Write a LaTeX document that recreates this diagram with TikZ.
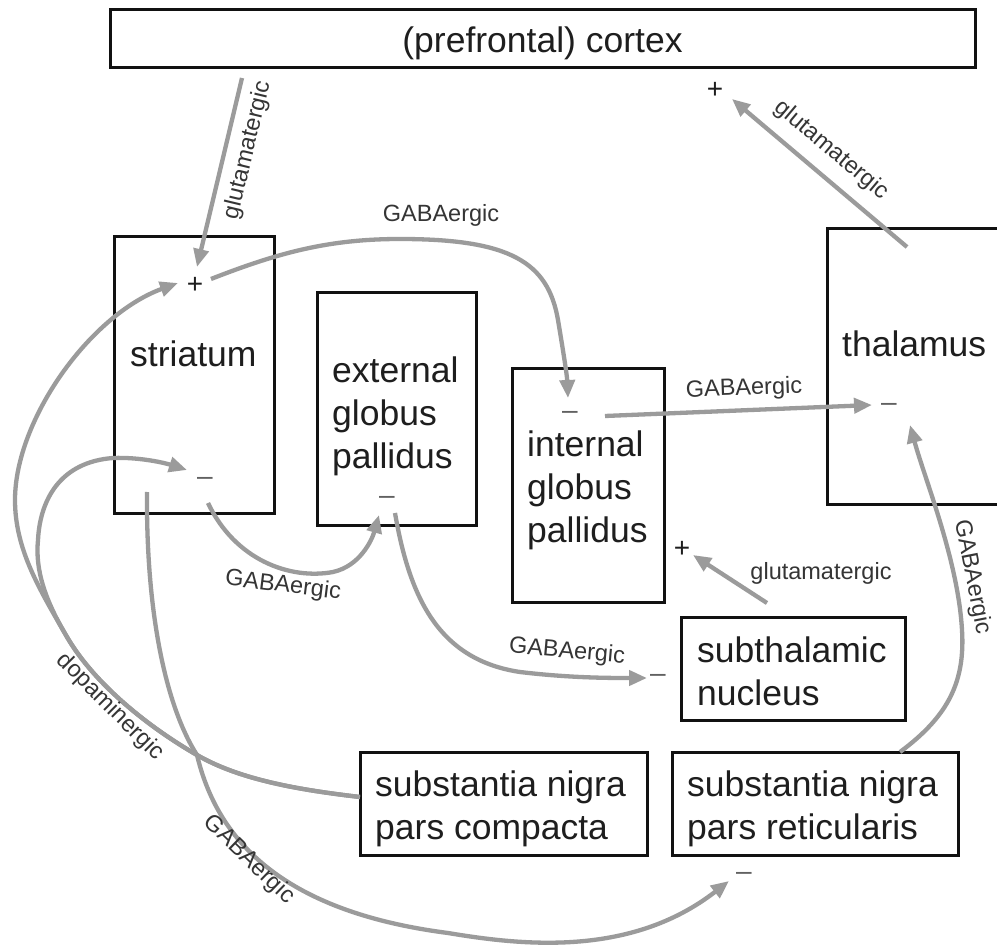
\documentclass[tikz,border=0pt]{standalone}
\usepackage{fontspec}
\setmainfont{Liberation Sans}
\usetikzlibrary{arrows.meta,fit}

\definecolor{wire}{HTML}{9B9B9B}
\definecolor{ink}{HTML}{1E1E1E}
\definecolor{frame}{HTML}{111111}

\begin{document}
\begin{tikzpicture}[x=1pt,y=-1pt,
  region/.style={draw=frame, line width=3pt, inner sep=0pt, rectangle, fit={#1}},
  big/.style={font=\fontsize{35.5}{43}\selectfont, text=ink, inner sep=0pt, align=left},
  small/.style={font=\fontsize{23.5}{28}\selectfont, text=ink!90, inner sep=0pt},
  plus/.style={font=\fontsize{28}{32}\selectfont, text=ink, inner sep=0pt},
  minus/.style={font=\fontsize{28}{32}\selectfont, text=ink!70, inner sep=0pt, yshift=-3.3pt},
  conn/.style={draw=wire, line width=4.3pt, -{Triangle[length=18pt,width=15pt]}}]

\useasboundingbox[fill=white] (0,0) rectangle (997,949);

% regions of the circuit
\node[region={(110,10) (975,68)}] (ctx) {};
\node[region={(114,237) (274,514)}] (str) {};
\node[region={(317,293) (476,526)}] (gpe) {};
\node[region={(512,369) (664,603)}] (gpi) {};
\node[region={(827,229) (1004,505)}] (thal) {};
\node[region={(681,618) (905,720)}] (stn) {};
\node[region={(360,752) (647,855)}] (snc) {};
\node[region={(672,752) (958,855)}] (snr) {};

% region names
\node[big, anchor=base] (ctxT) at (542.5,53) {(prefrontal) cortex};
\node[big, anchor=base west] (strT) at (130,367) {striatum};
\node[big, anchor=north west] (gpeT) at (332,356.6) {external\\globus\\pallidus};
\node[big, anchor=north west] (gpiT) at (527,430.6) {internal\\globus\\pallidus};
\node[big, anchor=base west] (thalT) at (842,357) {thalamus};
\node[big, anchor=north west] (stnT) at (697,636.6) {subthalamic\\nucleus};
\node[big, anchor=north west] (sncT) at (375,770.6) {substantia nigra\\pars compacta};
\node[big, anchor=north west] (snrT) at (687,770.6) {substantia nigra\\pars reticularis};

% excitatory / inhibitory marks
\node[plus] (pStr) at (195,285) {+};
\node[minus] (mStr) at (205,478) {–};
\node[minus] (mGpe) at (387,497) {–};
\node[minus] (mGpi) at (570,412) {–};
\node[minus] (mThal) at (889,404) {–};
\node[plus] (pCtx) at (715,90) {+};
\node[plus] (pGpi) at (682,549) {+};
\node[minus] (mStn) at (658,675) {–};
\node[minus] (mSnr) at (744,873) {–};

% connector end points
\coordinate (ctxOut) at (242,78);   \coordinate (strIn1) at (197,267);
\coordinate (thalOut) at (907,247); \coordinate (ctxIn) at (732,99);
\coordinate (stnOut) at (767,603);  \coordinate (gpiIn2) at (693,555);
\coordinate (gpiOut) at (605,416);  \coordinate (thalIn1) at (872,405);
\coordinate (strOut1) at (211,279); \coordinate (gpiIn1) at (568,398);
\coordinate (strOut2) at (208,503); \coordinate (gpeIn) at (379,515);
\coordinate (gpeOut) at (395,513);  \coordinate (stnIn) at (647,678);
\coordinate (snrOut) at (900,752);  \coordinate (thalIn2) at (910,425);
\coordinate (sncOut) at (360,797);  \coordinate (strIn2) at (178,283);
\coordinate (strIn3) at (187,470);
\coordinate (strOut3) at (147,492); \coordinate (snrIn) at (729,881);

% straight projections
\draw[conn] (ctxOut) -- (strIn1);
\draw[conn] (thalOut) -- (ctxIn);
\draw[conn] (stnOut) -- (gpiIn2);
\draw[conn] (gpiOut) -- (thalIn1);

% curved projections
\draw[conn] (strOut1) .. controls (280,252) and (330,239) .. (400,239)
  .. controls (510,239) and (548,262) .. (558,320)
  .. controls (563,350) and (567,375) .. (gpiIn1);
\draw[conn] (strOut2) .. controls (235,560) and (290,580) .. (333,572)
  .. controls (360,566) and (372,540) .. (gpeIn);
\draw[conn] (gpeOut) .. controls (410,600) and (440,660) .. (520,672)
  .. controls (570,678) and (610,678) .. (stnIn);
\draw[conn] (snrOut) .. controls (950,715) and (965,680) .. (962,630)
  .. controls (958,560) and (925,480) .. (thalIn2);
\draw[conn] (sncOut) .. controls (300,790) and (240,780) .. (197,755)
  .. controls (150,728) and (95,685) .. (67,637)
  .. controls (40,590) and (15,550) .. (15,500)
  .. controls (15,420) and (90,315) .. (strIn2);
\draw[conn] (sncOut) .. controls (300,790) and (240,780) .. (197,755)
  .. controls (150,728) and (95,685) .. (67,637)
  .. controls (45,600) and (35,570) .. (38,540)
  .. controls (40,500) and (60,462) .. (113,458)
  .. controls (140,457) and (165,463) .. (strIn3);
\draw[conn] (strOut3) .. controls (146,610) and (165,705) .. (197,755)
  .. controls (215,830) and (270,910) .. (448,933)
  .. controls (520,945) and (630,958) .. (snrIn);

% transmitter labels
\node[small, rotate=76.6] (lab1) at (248,150) {glutamatergic};
\node[small] (lab2) at (441,215) {GABAergic};
\node[small, rotate=-40] (lab3) at (831,150) {glutamatergic};
\node[small, rotate=2] (lab4) at (744,389) {GABAergic};
\node[small] (lab5) at (821,573) {glutamatergic};
\node[small, rotate=-7] (lab6) at (283,586) {GABAergic};
\node[small, rotate=-5] (lab7) at (567,652) {GABAergic};
\node[small, rotate=-45] (lab8) at (110,707) {dopaminergic};
\node[small, rotate=-44] (lab9) at (249,860) {GABAergic};
\node[small, rotate=-79] (lab10) at (972,577) {GABAergic};

\end{tikzpicture}
\end{document}
